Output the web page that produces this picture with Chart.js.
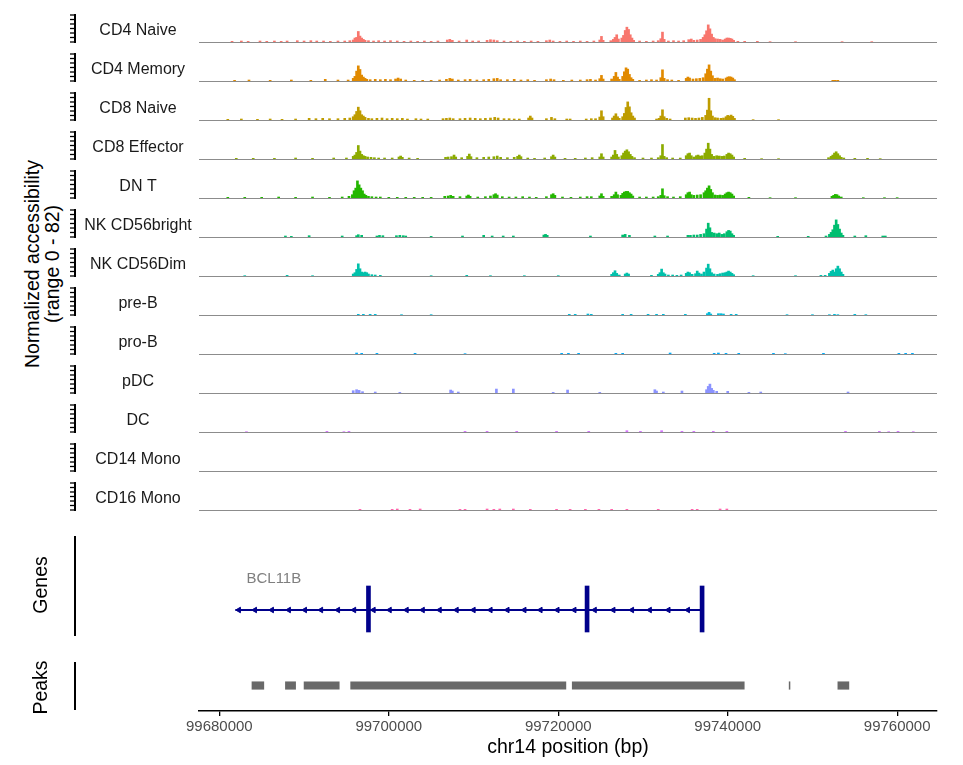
<!DOCTYPE html>
<html>
<head>
<meta charset="utf-8">
<script src="https://cdn.jsdelivr.net/npm/chart.js@4.4.0/dist/chart.umd.min.js"></script>
<style>
  body { margin: 0; background: #fff; width: 963px; height: 765px; position: relative; overflow: hidden; font-family: "Liberation Sans", Arial, sans-serif; }
  canvas { position: absolute; left: 0; }
  #ytitle { position: absolute; left: -158px; top: 244px; width: 400px; height: 40px; font-size: 19.5px; line-height: 20px; text-align: center; color: #000; transform: rotate(-90deg); }
</style>
</head>
<body>
<div id="ytitle">Normalized accessibility<br>(range 0 - 82)</div>
<script>
// coverage per group: [position in kb, normalized accessibility]
const cd4NaiveCov = [
  [99681.5,2],[99682.6,3],[99683.4,2],[99684.8,3],[99685.6,2],[99686.5,3],[99687.3,2],[99688.0,3],[99689.2,4],[99690.0,3],[99690.8,4],[99691.5,3],[99692.3,3],[99693.1,2],[99694.0,3],[99694.8,3],[99695.4,4],
  [99695.8,6],[99696.0,12],[99696.2,14],[99696.4,32],[99696.6,18],[99696.8,12],[99697.0,8],[99697.2,5],
  [99697.6,4],[99698.2,3],[99698.8,4],[99699.5,3],[99700.2,4],[99701.0,3],[99701.8,2],[99702.6,3],[99703.4,2],[99704.2,3],[99705.0,2],[99705.8,3],
  [99706.9,6],[99707.2,8],[99707.5,5],[99708.3,3],[99709.2,6],[99709.9,3],[99710.6,3],[99711.6,5],[99712.0,7],[99712.4,6],[99712.8,4],[99713.6,3],[99714.4,2],[99715.2,3],[99716.0,2],[99716.8,3],[99717.6,2],[99718.6,4],[99719.0,6],[99719.4,3],[99720.2,2],[99721.0,3],[99721.8,2],[99722.6,3],[99723.4,2],[99724.2,3],
  [99724.9,6],[99725.1,17],[99725.3,5],
  [99726.2,4],[99726.5,8],[99726.7,14],[99726.9,22],[99727.1,9],
  [99727.5,12],[99727.7,20],[99727.9,35],[99728.1,45],[99728.3,38],[99728.5,22],[99728.7,12],[99728.9,5],
  [99729.6,3],[99730.4,2],[99731.2,3],[99731.8,4],[99732.1,10],[99732.3,30],[99732.5,8],[99733.0,3],[99733.6,4],[99734.2,3],[99734.8,4],
  [99735.4,7],[99735.7,9],[99736.0,5],[99736.4,6],[99736.8,8],[99737.1,14],[99737.3,22],[99737.5,34],[99737.7,52],[99737.9,40],[99738.1,24],[99738.3,14],[99738.5,10],[99738.8,9],[99739.1,8],[99739.4,6],
  [99739.7,9],[99739.9,12],[99740.1,12],[99740.3,11],[99740.5,9],[99740.7,5],
  [99741.2,2],[99742.0,2],[99743.5,2],[99745.0,1],[99748.0,1],[99753.5,1],[99757.0,1]
];
const cd4MemoryCov = [
  [99681.8,2],[99683.5,3],[99686.0,2],[99688.5,3],[99690.8,2],[99692.5,5],[99694.0,3],[99695.2,3],
  [99695.8,8],[99696.0,14],[99696.2,30],[99696.4,46],[99696.6,35],[99696.8,18],[99697.0,12],[99697.2,8],[99697.4,5],
  [99697.8,4],[99698.4,5],[99699.0,4],[99699.6,5],[99700.2,4],[99700.8,6],[99701.1,9],[99701.4,6],[99702.0,3],[99703.0,2],[99704.0,2],[99705.0,2],[99706.0,3],[99706.8,5],[99707.2,8],[99707.5,6],[99708.2,3],[99709.0,4],[99709.6,5],[99710.4,3],[99711.2,4],[99711.8,5],[99712.4,7],[99712.8,8],[99713.2,4],[99714.0,4],[99714.8,5],[99715.6,3],[99716.4,4],[99717.2,2],[99718.6,4],[99719.1,6],[99719.5,4],[99720.6,2],[99721.6,3],[99722.6,3],[99723.4,4],[99723.8,5],[99724.4,3],
  [99724.9,7],[99725.1,17],[99725.3,6],
  [99726.3,6],[99726.6,14],[99726.8,26],[99727.0,12],[99727.2,5],
  [99727.6,14],[99727.8,28],[99728.0,40],[99728.2,36],[99728.4,20],[99728.6,10],[99728.8,5],
  [99729.6,2],[99730.4,3],[99731.0,4],[99731.6,3],[99732.1,10],[99732.3,34],[99732.5,8],[99732.9,4],[99733.4,3],[99734.2,2],
  [99735.1,8],[99735.3,12],[99735.5,9],[99735.9,6],[99736.3,7],[99736.7,8],[99737.1,10],[99737.4,22],[99737.6,36],[99737.8,49],[99738.0,30],[99738.2,16],[99738.5,8],[99738.8,9],[99739.1,7],[99739.4,6],
  [99739.8,9],[99740.0,12],[99740.2,13],[99740.4,12],[99740.6,9],[99740.8,4],
  [99752.4,2],[99752.7,2],[99753.0,2]
];
const cd8NaiveCov = [
  [99681.0,2],[99682.6,3],[99684.5,2],[99686.0,3],[99687.4,2],[99689.0,3],[99690.6,5],[99691.4,4],[99692.2,5],[99693.0,4],[99694.0,4],[99694.8,5],[99695.4,6],
  [99695.8,10],[99696.0,16],[99696.2,26],[99696.4,39],[99696.6,28],[99696.8,16],[99697.0,12],[99697.2,8],
  [99697.6,5],[99698.0,4],[99698.6,5],[99699.2,6],[99699.8,4],[99700.4,5],[99701.0,4],[99701.6,5],[99702.2,3],[99703.2,4],[99703.8,3],[99704.6,3],
  [99706.4,4],[99706.8,5],[99707.2,6],[99707.6,4],[99708.4,4],[99709.0,5],[99709.6,6],[99710.2,5],[99710.8,4],[99711.4,5],[99712.0,6],[99712.5,8],[99712.9,6],[99713.6,4],[99714.2,4],[99714.8,3],[99715.4,3],[99716.5,6],[99716.7,12],[99716.9,6],[99718.6,4],[99719.2,8],[99719.6,4],[99721.0,3],[99721.4,3],[99723.3,3],[99723.9,4],[99724.4,4],
  [99724.9,9],[99725.1,28],[99725.3,10],
  [99726.4,6],[99726.6,12],[99726.8,19],[99727.0,10],[99727.2,5],
  [99727.6,10],[99727.8,20],[99728.0,38],[99728.2,55],[99728.4,40],[99728.6,22],[99728.8,12],[99729.0,6],
  [99731.6,3],[99731.9,5],[99732.1,12],[99732.3,31],[99732.5,10],[99732.8,5],[99733.2,3],
  [99735.0,6],[99735.4,7],[99735.8,6],[99736.2,5],[99736.6,6],[99737.0,8],[99737.4,14],[99737.6,30],[99737.8,66],[99738.0,28],[99738.2,12],[99738.5,7],[99738.8,6],[99739.2,5],[99739.5,6],
  [99739.8,10],[99740.0,14],[99740.2,12],[99740.4,15],[99740.6,11],[99740.8,5],
  [99743.0,1],[99746.0,1]
];
const cd8EffectorCov = [
  [99682.0,2],[99684.0,2],[99686.5,2],[99689.0,3],[99691.0,2],[99693.5,3],[99695.0,3],
  [99695.8,8],[99696.0,12],[99696.2,20],[99696.4,41],[99696.6,24],[99696.8,14],[99697.0,10],[99697.2,8],[99697.5,6],[99697.9,5],[99698.3,4],[99698.8,3],
  [99699.5,3],[99700.4,3],[99701.2,6],[99701.4,9],[99701.6,5],[99702.4,3],[99703.4,2],
  [99706.7,5],[99707.0,6],[99707.4,7],[99707.7,12],[99707.9,6],[99708.6,4],[99709.3,8],[99709.5,15],[99709.7,7],[99710.4,4],[99711.2,5],[99711.8,6],[99712.4,7],[99712.8,9],[99713.2,5],[99714.0,4],[99714.8,5],[99715.2,8],[99715.4,12],[99715.6,7],[99716.4,3],[99717.2,2],[99718.4,3],[99719.2,7],[99719.4,12],[99719.6,6],[99720.8,2],[99722.0,2],[99723.2,3],[99724.0,4],
  [99724.9,6],[99725.1,16],[99725.3,6],
  [99726.3,6],[99726.5,12],[99726.7,26],[99726.9,14],[99727.1,6],
  [99727.5,10],[99727.7,18],[99727.9,24],[99728.1,28],[99728.3,22],[99728.5,14],[99728.7,8],[99729.0,4],
  [99730.0,3],[99731.0,3],[99731.8,4],[99732.1,10],[99732.3,44],[99732.5,8],[99732.8,4],[99733.5,3],[99734.4,3],
  [99735.1,10],[99735.3,16],[99735.5,18],[99735.7,10],[99736.0,6],[99736.3,10],[99736.5,12],[99736.7,9],[99737.0,10],[99737.3,18],[99737.5,30],[99737.7,48],[99737.9,30],[99738.1,14],[99738.4,8],[99738.7,10],[99739.0,9],[99739.3,8],[99739.6,9],
  [99739.9,14],[99740.1,18],[99740.3,16],[99740.5,12],[99740.7,6],
  [99742.0,2],[99744.0,1],[99746.0,1],
  [99751.9,4],[99752.2,8],[99752.4,12],[99752.6,18],[99752.8,22],[99753.0,16],[99753.2,10],[99753.4,5],[99753.7,3],
  [99755.0,2],[99756.5,2],[99758.0,1]
];
const dnTCov = [
  [99681.0,2],[99683.0,2],[99685.0,2],[99687.0,3],[99689.0,2],[99691.0,3],[99693.0,2],[99694.5,3],[99695.3,5],
  [99695.7,10],[99695.9,22],[99696.1,30],[99696.3,52],[99696.5,40],[99696.7,30],[99696.9,22],[99697.1,12],[99697.3,8],[99697.6,5],[99698.0,4],[99698.5,3],[99699.0,3],
  [99700.0,2],[99701.0,2],[99702.0,2],[99703.0,2],[99704.0,2],[99705.0,2],
  [99706.6,5],[99707.0,6],[99707.3,8],[99707.6,5],[99708.4,4],[99709.2,6],[99709.4,9],[99709.6,5],[99710.5,3],[99711.4,4],[99712.0,6],[99712.4,10],[99712.6,13],[99712.8,9],[99713.4,4],[99714.2,3],[99715.0,3],[99715.8,4],[99716.6,3],[99717.4,2],[99718.6,4],[99719.2,10],[99719.4,13],[99719.6,8],[99720.5,3],[99721.5,2],[99722.6,3],[99723.4,4],[99723.9,4],
  [99724.9,6],[99725.1,13],[99725.3,5],
  [99726.3,5],[99726.6,10],[99726.8,18],[99727.0,10],
  [99727.4,8],[99727.6,14],[99727.8,18],[99728.0,20],[99728.2,20],[99728.4,16],[99728.6,12],[99728.8,6],
  [99729.6,3],[99730.4,3],[99731.2,3],[99731.8,4],[99732.1,8],[99732.3,28],[99732.5,7],[99732.9,4],[99733.6,3],[99734.4,4],
  [99735.1,10],[99735.3,16],[99735.5,18],[99735.7,10],[99736.0,8],[99736.4,9],[99736.8,10],[99737.2,16],[99737.4,22],[99737.6,30],[99737.8,37],[99738.0,26],[99738.2,16],[99738.5,9],[99738.8,8],[99739.1,9],[99739.4,8],
  [99739.7,12],[99739.9,16],[99740.1,18],[99740.3,16],[99740.5,12],[99740.7,6],
  [99742.5,2],[99745.0,1],[99748.0,1],
  [99752.3,5],[99752.5,8],[99752.7,11],[99752.9,10],[99753.1,6],[99753.4,3],
  [99756.0,1],[99758.5,1],[99760.0,1]
];
const nkBrightCov = [
  [99687.8,3],[99688.5,2],[99690.6,4],[99694.5,3],[99696.2,4],[99696.4,7],[99696.8,5],[99698.6,3],[99698.9,5],[99699.3,4],[99700.9,4],[99701.3,5],[99701.7,4],[99702.0,3],[99705.0,2],[99708.7,3],[99711.2,5],[99712.2,3],[99713.5,3],[99714.7,3],
  [99718.3,6],[99718.5,8],[99718.7,5],[99723.8,3],[99727.6,6],[99727.9,8],[99728.4,5],[99731.4,3],[99732.9,3],
  [99735.3,5],[99735.6,5],[99736.0,6],[99736.4,6],[99736.8,8],[99737.2,10],[99737.5,24],[99737.7,42],[99737.9,28],[99738.1,14],[99738.4,12],[99738.7,10],[99739.0,12],[99739.3,8],[99739.6,10],
  [99739.9,16],[99740.1,20],[99740.3,18],[99740.5,10],[99740.7,5],
  [99745.9,2],[99749.5,2],[99751.6,3],[99752.0,8],[99752.2,14],[99752.4,22],[99752.6,36],[99752.8,52],[99753.0,38],[99753.2,24],[99753.4,12],[99753.6,5],
  [99755.0,3],[99756.3,4],[99758.3,3],[99758.6,3]
];
const nkDimCov = [
  [99683.0,1],[99688.0,2],[99691.0,1],
  [99695.8,6],[99696.0,10],[99696.2,20],[99696.4,37],[99696.6,22],[99696.8,12],[99697.0,10],[99697.2,12],[99697.4,10],[99697.6,6],[99698.0,4],[99698.4,3],[99699.0,2],
  [99705.0,1],[99709.2,2],[99712.0,1],[99716.0,1],[99720.0,1],
  [99726.3,5],[99726.5,10],[99726.7,16],[99726.9,8],[99727.2,3],
  [99727.9,6],[99728.1,9],[99728.3,6],
  [99731.0,2],[99731.8,5],[99732.0,10],[99732.2,21],[99732.4,10],[99732.6,6],[99733.0,3],[99733.5,3],[99734.0,2],[99734.5,3],
  [99735.1,8],[99735.3,12],[99735.5,10],[99735.8,5],[99736.2,7],[99736.4,15],[99736.6,9],[99736.9,6],[99737.2,12],[99737.5,24],[99737.7,36],[99737.9,22],[99738.1,10],[99738.4,6],[99738.8,5],[99739.1,7],[99739.4,9],[99739.7,10],
  [99739.9,12],[99740.1,15],[99740.3,12],[99740.5,8],[99740.7,4],
  [99743.0,1],[99748.0,1],[99751.0,2],[99751.5,2],
  [99752.0,8],[99752.2,14],[99752.4,18],[99752.6,12],[99752.8,22],[99753.0,30],[99753.2,22],[99753.4,12],[99753.6,5]
];
const preBCov = [
  [99696.4,2],[99697.0,2],[99697.8,2],[99698.4,2],[99701.5,1],[99705.0,1],
  [99721.3,2],[99722.0,2],[99723.5,3],[99723.9,2],[99727.6,2],[99728.6,2],[99730.6,2],[99731.6,2],[99732.4,2],[99735.0,2],
  [99737.6,4],[99737.8,8],[99738.0,3],[99738.9,4],[99739.2,4],[99739.5,3],[99740.4,2],[99741.0,2],
  [99747.0,1],[99750.0,1],[99752.0,1],[99752.6,2],[99753.0,1],[99755.0,2],[99756.3,1]
];
const proBCov = [
  [99696.2,3],[99696.8,2],[99698.6,2],[99703.1,2],[99709.0,1],[99720.4,2],[99721.2,2],[99722.4,2],[99726.8,2],[99727.6,2],[99733.2,3],
  [99738.4,2],[99738.9,3],[99739.8,2],[99741.3,2],[99745.4,2],[99746.8,1],[99751.3,2],[99760.2,2],[99761.0,2],[99761.8,2]
];
const pDCCov = [
  [99695.8,7],[99696.2,10],[99696.5,8],[99696.9,4],[99698.4,3],[99701.3,2],[99707.3,9],[99707.5,6],[99708.2,3],[99712.7,12],[99714.7,12],
  [99719.4,2],[99721.1,9],[99724.9,2],[99731.4,10],[99731.6,6],[99732.4,3],[99734.6,6],
  [99737.5,10],[99737.7,20],[99737.9,27],[99738.1,14],[99738.3,8],[99738.7,5],[99740.0,5],[99742.5,2],[99743.9,3],[99754.2,3]
];
const dcCov = [
  [99683.2,1],[99692.7,2],[99694.7,1],[99695.3,2],[99709.0,2],[99711.6,2],[99715.1,2],[99719.8,2],[99723.6,2],[99728.1,4],[99729.7,2],[99732.2,4],
  [99734.6,2],[99736.0,2],[99738.3,2],[99739.9,2],[99753.9,2],[99757.9,2],[99759.0,1],[99760.1,2],[99761.9,1]
];
const cd14MonoCov = [];
const cd16MonoCov = [
  [99696.6,2],[99700.4,2],[99701.0,3],[99702.5,2],[99703.7,3],[99708.4,2],[99709.0,2],[99711.6,3],[99712.4,2],[99713.1,3],[99714.7,3],
  [99716.7,2],[99719.8,2],[99721.4,2],[99723.2,2],[99724.8,2],[99726.3,2],[99728.1,2],[99731.8,2],[99735.8,2],[99736.4,2],[99739.1,3],[99739.9,3]
];

const trackNames = ["CD4 Naive", "CD4 Memory", "CD8 Naive", "CD8 Effector", "DN T", "NK CD56bright", "NK CD56Dim",
  "pre-B", "pro-B", "pDC", "DC", "CD14 Mono", "CD16 Mono"];
const trackColors = ["#F8766D", "#E18A00", "#BE9C00", "#8CAB00", "#24B700", "#00BE70", "#00C1AB",
  "#00BBDA", "#00ACFC", "#8B93FF", "#D575FE", "#F962DD", "#FF65AC"];
const trackCoverage = [cd4NaiveCov, cd4MemoryCov, cd8NaiveCov, cd8EffectorCov, dnTCov, nkBrightCov, nkDimCov,
  preBCov, proBCov, pDCCov, dcCov, cd14MonoCov, cd16MonoCov];
const trackTicks = [0, 13.7, 27.3, 41, 54.7, 68.3, 82];

// gene BCL11B (kb)
const geneName = "BCL11B";
const geneSpan = [99681.9, 99737.0];
const exonSpans = [[99697.35, 99697.85], [99723.15, 99723.65], [99736.75, 99737.2]];
const geneArrows = [99682.3, 99684.2, 99686.2, 99688.2, 99690.1, 99692.0, 99694.0, 99695.9, 99698.2, 99700.1, 99702.1, 99704.0,
  99706.0, 99708.0, 99710.0, 99712.0, 99714.0, 99716.0, 99717.9, 99719.9, 99721.9, 99724.3, 99726.5, 99728.7, 99730.8, 99733.0, 99735.3];

// peaks (kb)
const peakStarts = [99683.85, 99687.8, 99690.0, 99695.5, 99721.65, 99747.25, 99753.0];
const peakEnds   = [99685.25, 99689.0, 99694.15, 99720.9, 99741.95, 99747.35, 99754.3];

const xTicks = [99680000, 99700000, 99720000, 99740000, 99760000];
const xMin = 99677600, xMax = 99764700;

const FONT = '"Liberation Sans", Arial, sans-serif';
Chart.defaults.font.family = FONT;
Chart.defaults.animation = false;

const firstBaseline = 42;
const trackStep = 39;
const padL = 199, padR = 26;

function makeCanvas(top, height) {
  const c = document.createElement('canvas');
  c.width = 963;
  c.height = height;
  c.style.top = top + 'px';
  c.style.width = '963px';
  c.style.height = height + 'px';
  document.body.appendChild(c);
  return c;
}

function sideLine(ctx, x, y0, y1) {
  ctx.save();
  ctx.strokeStyle = '#000';
  ctx.lineWidth = 2;
  ctx.beginPath();
  ctx.moveTo(x, y0);
  ctx.lineTo(x, y1);
  ctx.stroke();
  ctx.restore();
}

function sideTitle(ctx, text, x, y) {
  ctx.save();
  ctx.translate(x, y);
  ctx.rotate(-Math.PI / 2);
  ctx.fillStyle = '#000';
  ctx.font = '19.5px ' + FONT;
  ctx.textAlign = 'center';
  ctx.textBaseline = 'middle';
  ctx.fillText(text, 0, 0);
  ctx.restore();
}

const trackDecor = {
  id: 'trackDecor',
  beforeDatasetsDraw(chart, args, opts) {
    const {ctx, chartArea} = chart;
    const yS = chart.scales.y;
    ctx.save();
    // baseline
    ctx.strokeStyle = '#8c8c8c';
    ctx.lineWidth = 1;
    ctx.beginPath();
    ctx.moveTo(chartArea.left, chartArea.bottom + 0.5);
    ctx.lineTo(chartArea.right, chartArea.bottom + 0.5);
    ctx.stroke();
    // y axis with unlabeled ticks
    ctx.strokeStyle = '#000';
    ctx.lineWidth = 2;
    ctx.beginPath();
    ctx.moveTo(75, yS.getPixelForValue(82) - 1);
    ctx.lineTo(75, yS.getPixelForValue(0) + 1);
    ctx.stroke();
    ctx.lineWidth = 1.3;
    trackTicks.forEach(t => {
      const y = yS.getPixelForValue(t);
      ctx.beginPath();
      ctx.moveTo(70, y);
      ctx.lineTo(75, y);
      ctx.stroke();
    });
    // group label
    ctx.fillStyle = '#1a1a1a';
    ctx.font = '16px ' + FONT;
    ctx.textAlign = 'center';
    ctx.textBaseline = 'middle';
    ctx.fillText(opts.label, 138, chartArea.bottom - 11);
    ctx.restore();
  }
};

trackCoverage.forEach((cov, i) => {
  const base = firstBaseline + i * trackStep;
  const canvas = makeCanvas(base - 38, 40);
  new Chart(canvas, {
    type: 'bar',
    data: {
      datasets: [{
        data: cov.map(p => ({x: p[0] * 1000, y: p[1]})),
        backgroundColor: trackColors[i],
        barThickness: 2
      }]
    },
    options: {
      responsive: false,
      events: [],
      layout: {padding: {left: padL, right: padR, top: 11, bottom: 2}},
      plugins: {legend: {display: false}, tooltip: {enabled: false}, trackDecor: {label: trackNames[i]}},
      scales: {
        x: {type: 'linear', min: xMin, max: xMax, offset: false, display: false},
        y: {type: 'linear', min: 0, max: 82, display: false}
      }
    },
    plugins: [trackDecor]
  });
});

// gene track
const geneDecor = {
  id: 'geneDecor',
  afterDraw(chart) {
    const {ctx, chartArea} = chart;
    sideLine(ctx, 75, chartArea.top, chartArea.bottom);
    sideTitle(ctx, 'Genes', 42, (chartArea.top + chartArea.bottom) / 2 - 1);
    ctx.save();
    ctx.fillStyle = '#7f7f7f';
    ctx.font = '15px ' + FONT;
    ctx.textAlign = 'left';
    ctx.textBaseline = 'middle';
    ctx.fillText(geneName, chart.scales.x.getPixelForValue(99683.2 * 1000), chart.scales.y.getPixelForValue(0.57));
    ctx.restore();
  }
};
const geneColor = '#00008B';
new Chart(makeCanvas(528, 114), {
  type: 'bar',
  data: {
    datasets: [
      {
        type: 'line',
        data: [{x: geneSpan[0] * 1000, y: 0.26}, {x: geneSpan[1] * 1000, y: 0.26}],
        borderColor: geneColor, borderWidth: 2, pointRadius: 0
      },
      {
        type: 'scatter',
        data: geneArrows.map(p => ({x: p * 1000, y: 0.26})),
        pointStyle: 'triangle', rotation: 270, pointRadius: 3.2,
        backgroundColor: geneColor, borderColor: geneColor, borderWidth: 1
      },
      {
        type: 'bar',
        data: exonSpans.map(e => ({x: (e[0] + e[1]) / 2 * 1000, y: [0.04, 0.5]})),
        backgroundColor: geneColor, barThickness: 4
      }
    ]
  },
  options: {
    responsive: false,
    events: [],
    layout: {padding: {left: padL, right: padR, top: 8, bottom: 6}},
    plugins: {legend: {display: false}, tooltip: {enabled: false}},
    scales: {
      x: {type: 'linear', min: xMin, max: xMax, offset: false, display: false},
      y: {type: 'linear', min: 0, max: 1, display: false}
    }
  },
  plugins: [geneDecor]
});

// peaks track + genomic axis
const peakDecor = {
  id: 'peakDecor',
  afterDraw(chart) {
    const {ctx, chartArea} = chart;
    sideLine(ctx, 75, chartArea.top, chartArea.bottom - 1);
    sideTitle(ctx, 'Peaks', 42, (chartArea.top + chartArea.bottom) / 2 + 1);
  }
};
new Chart(makeCanvas(655, 110), {
  type: 'bar',
  data: {
    datasets: [{
      data: peakStarts.map((s, k) => ({x: [s * 1000, peakEnds[k] * 1000], y: 0.52})),
      backgroundColor: '#696969',
      barThickness: 7.5
    }]
  },
  options: {
    indexAxis: 'y',
    responsive: false,
    events: [],
    layout: {padding: {left: padL, right: padR, top: 7, bottom: 6}},
    plugins: {legend: {display: false}, tooltip: {enabled: false}},
    scales: {
      x: {
        type: 'linear', min: xMin, max: xMax, offset: false, position: 'bottom',
        border: {display: true, color: '#000', width: 1.5},
        grid: {display: true, drawOnChartArea: false, drawTicks: true, tickLength: 5, color: '#000', lineWidth: 1.3},
        ticks: {color: '#4d4d4d', font: {size: 15}, padding: 2, maxRotation: 0, autoSkip: false, callback: v => String(v)},
        title: {display: true, text: 'chr14 position (bp)', color: '#000', font: {size: 19.5}, padding: 0},
        afterBuildTicks: s => { s.ticks = xTicks.map(v => ({value: v})); },
        afterFit: s => { s.height = 48; }
      },
      y: {type: 'linear', min: 0, max: 1, offset: false, display: false}
    }
  },
  plugins: [peakDecor]
});
</script>
</body>
</html>
